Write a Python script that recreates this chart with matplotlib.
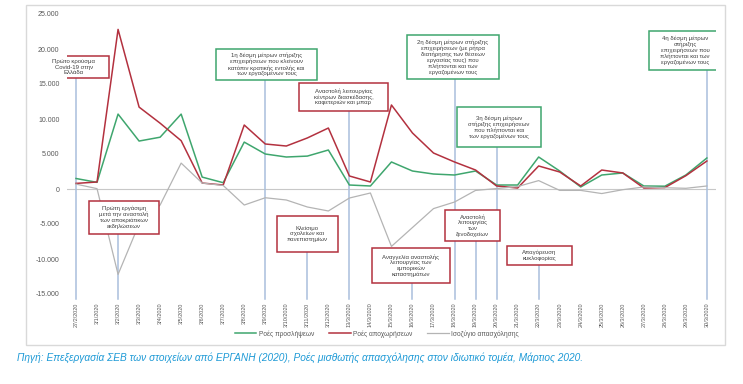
import matplotlib
matplotlib.use("Agg")
import matplotlib.pyplot as plt
from matplotlib.patches import Rectangle
from matplotlib.lines import Line2D
from matplotlib.ticker import FuncFormatter

plt.rcParams['font.family'] = ['Liberation Sans', 'DejaVu Sans']

# ---------------- data ----------------
dates = ["27/2/2020", "3/1/2020", "3/2/2020", "3/3/2020", "3/4/2020", "3/5/2020",
         "3/6/2020", "3/7/2020", "3/8/2020", "3/9/2020", "3/10/2020", "3/11/2020",
         "3/12/2020", "13/3/2020", "14/3/2020", "15/3/2020", "16/3/2020", "17/3/2020",
         "18/3/2020", "19/3/2020", "20/3/2020", "21/3/2020", "22/3/2020", "23/3/2020",
         "24/3/2020", "25/3/2020", "26/3/2020", "27/3/2020", "28/3/2020", "29/3/2020",
         "30/3/2020"]

hires = [1500, 950, 10700, 6850, 7400, 10700, 1700, 900, 6700, 5000, 4570, 4700,
         5570, 570, 430, 3860, 2570, 2140, 2000, 2570, 570, 570, 4570, 2570,
         290, 2000, 2290, 430, 400, 2000, 4430]

departures = [800, 1000, 22800, 11700, 9400, 6900, 850, 570, 9140, 6430, 6140, 7290,
              8710, 1860, 1000, 12000, 8000, 5140, 3860, 2710, 430, 140, 3290, 2430,
              430, 2710, 2290, 140, 200, 1900, 4000]

balance = [700, 50, -12200, -5000, -2290, 3700, 850, 500, -2290, -1250, -1570, -2570,
           -3140, -1290, -570, -8200, -5500, -2800, -1860, -200, 60, 350, 1200, -200,
           -200, -650, -100, 290, 180, 100, 430]

series_names = ["Ροές προσλήψεων", "Ροές αποχωρήσεων", "Ισοζύγιο απασχόλησης"]

event_texts = [
    "Πρώτο κρούσμα\nCovid-19 στην\nΕλλάδα",
    "Πρώτη εργάσιμη\nμετά την αναστολή\nτων αποκριάτικων\nεκδηλώσεων",
    "1η δέσμη μέτρων στήριξης\nεπιχειρήσεων που κλείνουν\nκατόπιν κρατικής εντολής και\nτων εργαζομένων τους",
    "Αναστολή λειτουργίας\nκέντρων διασκέδασης,\nκαφετεριών και μπαρ",
    "Κλείσιμο\nσχολείων και\nπανεπιστημίων",
    "Αναγγελία αναστολής\nλειτουργίας των\nεμπορικών\nκαταστημάτων",
    "2η δέσμη μέτρων στήριξης\nεπιχειρήσεων (με ρήτρα\nδιατήρησης των θέσεων\nεργασίας τους) που\nπλήττονται και των\nεργαζομένων τους",
    "Αναστολή\nλειτουργίας\nτων\nξενοδοχείων",
    "3η δέσμη μέτρων\nστήριξης επιχειρήσεων\nπου πλήττονται και\nτων εργαζομένων τους",
    "Απαγόρευση\nκυκλοφορίας",
    "4η δέσμη μέτρων\nστήριξης\nεπιχειρήσεων που\nπλήττονται και των\nεργαζομένων τους",
]
event_index = [0, 2, 9, 13, 11, 16, 18, 19, 20, 22, 30]
event_kind = ["r", "r", "g", "r", "r", "r", "g", "r", "g", "r", "g"]

caption = ("Πηγή: Επεξεργασία ΣΕΒ των στοιχείων από ΕΡΓΑΝΗ (2020), Ροές μισθωτής "
           "απασχόλησης στον ιδιωτικό τομέα, Μάρτιος 2020.")

# ---------------- layout (pixel boxes: cx, cy, w, h) ----------------
box_px = [
    (74, 67, 70, 22),
    (124, 217.5, 70, 33),
    (266.5, 64.5, 101, 31),
    (343.5, 97, 89, 28),
    (307.5, 234, 61, 36),
    (411, 265.5, 78, 35),
    (453, 57, 92, 44),
    (472.5, 225.5, 55, 31),
    (499, 127, 84, 40),
    (539.5, 255.5, 65, 19),
    (685, 50.5, 72, 39),
]

W, H = 743, 384
fig = plt.figure(figsize=(W / 100, H / 100), dpi=100)

x0_px, dx_px = 76, 21.03          # pixel of index 0, pixels per index
y0_px, dy_px = 189, 35 / 5000      # pixel of 0, pixels per unit
xlim = (-0.45, 30.45)
ylim = (-15000, 25000)
ax_left = x0_px + xlim[0] * dx_px
ax_right = x0_px + xlim[1] * dx_px
ax_top = y0_px - ylim[1] * dy_px
ax_bot = y0_px - ylim[0] * dy_px
ax = fig.add_axes([ax_left / W, 1 - ax_bot / H, (ax_right - ax_left) / W, (ax_bot - ax_top) / H])
ax.set_xlim(*xlim)
ax.set_ylim(*ylim)

# outer frame
fig.patches.append(Rectangle((26 / W, 1 - 345 / H), (725 - 26) / W, (345 - 5) / H,
                             transform=fig.transFigure, fill=False,
                             edgecolor="#d9d9d9", lw=1.0, zorder=0))

green = "#3fa66e"
red = "#b3313f"
gray = "#b4b4b4"
vblue = "#a9bfdc"

x = list(range(len(dates)))
ax.axhline(0, color="#c8c8c8", lw=0.8, zorder=1)
ax.plot(x, hires, color=green, lw=1.1, zorder=3)
ax.plot(x, departures, color=red, lw=1.1, zorder=3)
ax.plot(x, balance, color=gray, lw=0.9, zorder=3)

for txt, idx, kind, (cx, cy, w, h) in zip(event_texts, event_index, event_kind, box_px):
    cxd = (cx - x0_px) / dx_px
    cyd = (y0_px - cy) / dy_px
    wd = w / dx_px
    hd = h / dy_px
    bottom = cyd - hd / 2
    ax.plot([idx, idx], [bottom, -15700], color=vblue, lw=1.1, zorder=2, clip_on=False)
    ec = red if kind == "r" else green
    ax.add_patch(Rectangle((cxd - wd / 2, bottom), wd, hd, facecolor="white",
                           edgecolor=ec, lw=1.1, zorder=5))
    ax.text(cxd, cyd, txt, ha="center", va="center", fontsize=4.3, color="#404040",
            linespacing=1.15, zorder=6)

ax.set_xticks(x)
ax.set_xticklabels(dates, rotation=90, fontsize=4.0, color="#595959")
ax.set_yticks(range(-15000, 25001, 5000))
ax.yaxis.set_major_formatter(FuncFormatter(lambda v, p: f"{int(v):,}".replace(",", ".")))
ax.tick_params(axis="y", labelsize=5, colors="#595959", length=0, pad=5)
ax.tick_params(axis="x", length=0, pad=6)
for s in ax.spines.values():
    s.set_visible(False)
ax.patch.set_alpha(0)

handles = [Line2D([], [], color=green, lw=1.1),
           Line2D([], [], color=red, lw=1.1),
           Line2D([], [], color=gray, lw=0.9)]
fig.legend(handles, series_names, loc="center", bbox_to_anchor=(377 / W, 1 - 334 / H),
           ncol=3, frameon=False, fontsize=4.8, handlelength=3.2, columnspacing=2.2,
           handletextpad=0.4, labelcolor="#595959")

fig.text(17 / W, 1 - 358 / H, caption, ha="left", va="center", fontsize=7.3,
         style="italic", color="#1e9ad6")

fig.savefig("out.png", dpi=100)
